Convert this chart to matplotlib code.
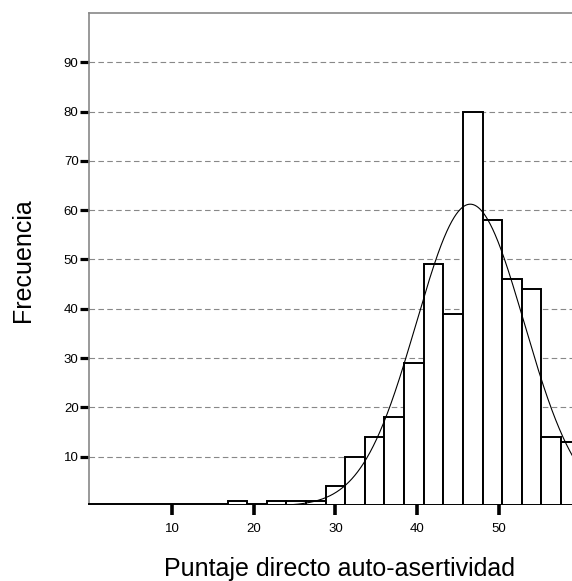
import numpy as np
import matplotlib
matplotlib.use("Agg")
import matplotlib.pyplot as plt

# Data
bin_start = 16.8
bin_width = 2.4
counts = [1, 0, 1, 1, 1, 4, 10, 14, 18, 29, 49, 39, 80, 58, 46, 44, 14, 13]
curve_mean = 46.5
curve_sd = 6.6
x_ticks = [10, 20, 30, 40, 50]
y_ticks = [10, 20, 30, 40, 50, 60, 70, 80, 90]
x_label = "Puntaje directo auto-asertividad"
y_label = "Frecuencia"

plt.rcParams['font.family'] = ['Liberation Sans', 'DejaVu Sans']

fig = plt.figure(figsize=(5.72, 5.81), dpi=100)
W, H = 572, 581
left_px, right_px, top_px, bot_px = 89, 572, 13, 504
ax = fig.add_axes([left_px / W, (H - bot_px) / H, (right_px - left_px) / W, (bot_px - top_px) / H])

edges = bin_start + bin_width * np.arange(len(counts))
for e, c in zip(edges, counts):
    if c > 0:
        ax.bar(e, c, width=bin_width, align='edge', facecolor='white',
               edgecolor='black', linewidth=1.4, zorder=3)

n = sum(counts)
xs = np.linspace(0, 60, 1200)
ys = n * bin_width / (curve_sd * np.sqrt(2 * np.pi)) * np.exp(-0.5 * ((xs - curve_mean) / curve_sd) ** 2)
ax.plot(xs, ys, color='black', linewidth=0.8, zorder=4)

ax.set_xlim(-0.15, 58.95)
ax.set_ylim(0.4, 100)

for yt in y_ticks:
    ax.axhline(yt, color='#888888', linewidth=0.8, linestyle=(0, (5, 3)), zorder=1)

ax.set_xticks(x_ticks)
ax.set_yticks(y_ticks)
ax.tick_params(axis='y', direction='out', length=6.5, width=2.3, color='black',
               pad=1, labelsize=9.5)
ax.tick_params(axis='x', direction='out', length=8, width=2.6, color='black',
               pad=6, labelsize=9.5)

for s in ['left', 'top']:
    ax.spines[s].set_color('#888888')
    ax.spines[s].set_linewidth(1.2)
ax.spines['right'].set_visible(False)
ax.spines['bottom'].set_color('black')
ax.spines['bottom'].set_linewidth(1.4)

fig.text(23 / W, 1 - 260 / H, y_label, rotation=90, fontsize=18, ha='center', va='center')
fig.text(340 / W, 1 - 569 / H, x_label, fontsize=18, ha='center', va='center')

fig.savefig("out.png", dpi=100)
